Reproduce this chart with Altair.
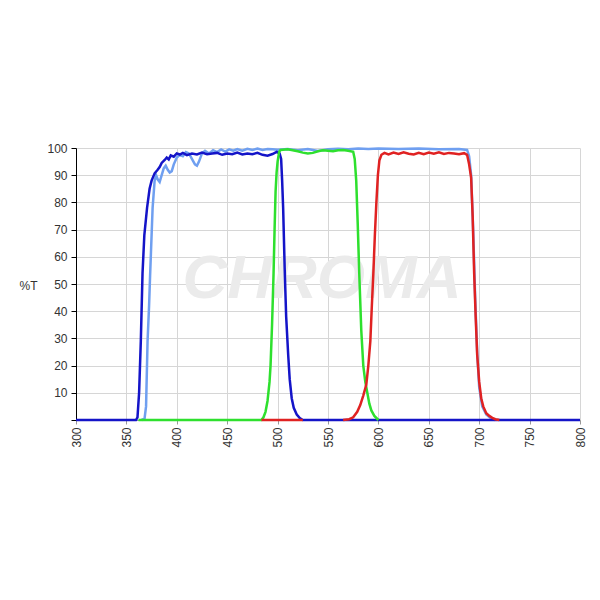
import altair as alt
import pandas as pd

# Dark blue (bandpass ~360-505)
db_wl = [300, 359.5, 361, 362.6, 364.3, 366, 367.8, 370.5, 373, 375, 378, 381, 383, 385, 388, 390, 392, 394,
         397, 400, 403, 406, 410, 415, 420, 425, 430, 435, 440, 445, 450, 455, 460, 465, 470, 475, 480, 485,
         490, 495, 499, 502, 503.5, 504.5, 505.5, 507, 508.5, 510.5, 512, 514, 516, 519, 522, 525, 800]
db_t = [0, 0, 1, 10, 29, 54, 68, 78, 85, 88, 90.7, 92, 93, 94.5, 95.6, 96.5, 95.8, 97.3,
        96.8, 98, 97.6, 98.2, 97.4, 98, 97.6, 98.3, 97.7, 98, 98.2, 97.5, 98, 97.7, 98.3, 97.6, 98, 97.7, 98.2, 97.5,
        97.2, 97.8, 98.6, 98, 96, 88, 78, 56, 38, 24, 15, 8, 4.5, 2, 0.7, 0, 0]

# Light blue (long pass ~370-695)
lb_wl = [365, 368, 369.5, 371, 372.5, 373.5, 375, 376, 378, 379.5, 381, 383, 385, 387, 389, 391, 393, 395, 397,
         400, 403, 406, 409, 412, 415, 418, 420, 422, 425, 428, 432, 436, 440, 444, 448, 452, 456, 460, 465, 470,
         475, 480, 485, 490, 495, 500, 510, 520, 530, 540, 550, 560, 570, 580, 590, 600, 620, 640, 660, 680, 688,
         690, 692, 694, 696, 698, 700, 703, 707, 712, 716]
lb_t = [0, 0.5, 5, 29, 42, 53, 68, 78, 88, 90, 88.5, 87.5, 90, 92.5, 93.5, 92, 91, 91.5, 94,
        96.5, 97.5, 97, 98.5, 98, 96, 94, 93.5, 95, 98, 99, 98, 99.2, 98.5, 99.5, 98.7, 99.5, 99, 99.6, 99, 99.7,
        99.3, 99.8, 99.3, 99.6, 99.5, 99.4, 99.6, 99.2, 99.6, 98.9, 99.5, 99.7, 99.5, 99.8, 99.6, 99.8, 99.6, 99.8,
        99.5, 99.6, 99.3, 97, 90, 70, 45, 25, 12, 5, 2, 0.5, 0]

# Green (bandpass ~495-580)
g_wl = [362, 484, 486, 488, 490, 492, 493, 494.5, 496, 497, 498, 499, 500, 501.5, 503, 510, 515, 520, 525, 530,
        535, 540, 545, 550, 555, 560, 565, 570, 575, 576.5, 578, 579.5, 581, 583, 585, 587, 589, 591, 593, 596, 600]
g_t = [0, 0, 1, 3, 7, 14, 20, 35, 54, 70, 84, 91, 95, 98.5, 99.3, 99.5, 99.2, 98.8, 98.3, 98,
       98.2, 98.8, 99.2, 99, 98.8, 99.2, 99.3, 99, 98.6, 96, 88, 72, 54, 33, 20, 14, 10, 6, 3.5, 1.5, 0]

# Red (bandpass ~595-695), drawn in two pieces
r_wl = [484, 525,
        565, 571, 575, 579, 582, 585, 588, 590, 592, 593.5, 595, 596.5, 598, 599.5, 601, 603, 606, 610, 615, 620,
        625, 630, 635, 640, 645, 650, 655, 660, 665, 670, 675, 680, 685, 688, 690, 692, 693.5, 695, 696.5, 698,
        700, 702, 704, 707, 710, 713, 716, 720]
r_t = [0, 0,
       0, 0.3, 1, 3, 5.5, 9, 13, 20, 29, 42, 54, 68, 80, 90, 95.5, 97.5, 98.2, 97.6, 98.3, 97.8,
       98.4, 97.9, 97.6, 98.2, 97.7, 98.3, 97.9, 98.4, 97.8, 98.2, 98, 97.7, 98.1, 97.5, 94, 89, 75, 54, 38, 24,
       14, 8, 5, 2.5, 1.5, 0.8, 0.3, 0]
r_seg = ["a"] * 2 + ["b"] * (len(r_wl) - 2)

x_ticks = list(range(300, 801, 50))
y_ticks = list(range(0, 101, 10))

db = pd.DataFrame({"wl": db_wl, "t": db_t, "seg": "a"})
lb = pd.DataFrame({"wl": lb_wl, "t": lb_t, "seg": "a"})
gr = pd.DataFrame({"wl": g_wl, "t": g_t, "seg": "a"})
rd = pd.DataFrame({"wl": r_wl, "t": r_t, "seg": r_seg})
wm = pd.DataFrame({"wl": [544], "t": [45], "txt": ["CHROMA"]})

xenc = alt.X("wl:Q", title=None,
             scale=alt.Scale(domain=[300, 800], nice=False, zero=False),
             axis=alt.Axis(values=x_ticks, labelAngle=270, labelFont="Liberation Sans", labelFontSize=12,
                           labelColor="#333333", domainColor="#999999", tickColor="#999999", tickSize=4,
                           gridColor="#d6d6d6", labelPadding=3))
yenc = alt.Y("t:Q", title="%T",
             scale=alt.Scale(domain=[0, 100], nice=False),
             axis=alt.Axis(values=y_ticks, labelExpr="datum.value == 0 ? '' : datum.label",
                           labelFont="Liberation Sans", labelFontSize=12, labelColor="#333333",
                           domainColor="#000000", tickColor="#000000", tickSize=5, gridColor="#d6d6d6",
                           titleAngle=0, titleX=-48, titleY=137, titleAlign="center", titleBaseline="middle",
                           titleFont="Liberation Sans", titleFontSize=12, titleFontWeight="normal",
                           titleColor="#333333", labelPadding=4))

watermark = alt.Chart(wm).mark_text(font="Liberation Sans", fontSize=62, fontWeight="bold", fontStyle="italic",
                                    color="#ebebeb", baseline="alphabetic", align="center").encode(
    x=xenc, y=yenc, text="txt:N")

def line(df, color):
    return alt.Chart(df).mark_line(color=color, strokeWidth=2.5, interpolate="linear").encode(
        x=xenc, y=yenc, detail="seg:N", order="wl:Q")

chart = alt.layer(
    watermark,
    line(lb, "#6f9ff0"),
    line(db, "#1414c8"),
    line(gr, "#2ee02e"),
    line(rd, "#e02222"),
).properties(
    width=504, height=272,
    autosize=alt.AutoSizeParams(type="none"),
    padding={"left": 68, "top": 140, "right": 12, "bottom": 172},
    background="white",
).configure_view(strokeWidth=0)

chart.save("out.html", embed_options={"renderer": "svg", "actions": False})
